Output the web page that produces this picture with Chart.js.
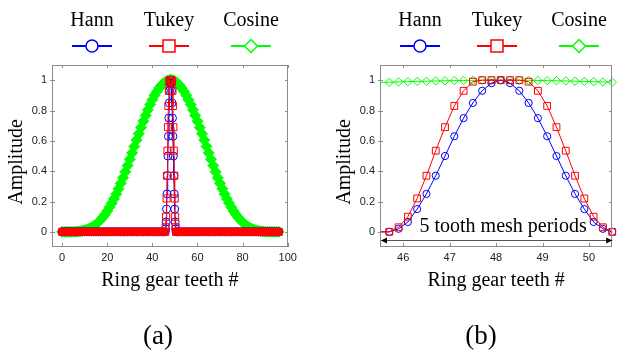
<!DOCTYPE html>
<html>
<head>
<meta charset="utf-8">
<script src="https://cdn.jsdelivr.net/npm/chart.js@4.4.0/dist/chart.umd.min.js"></script>
<style>
  html, body { margin: 0; padding: 0; background: #fff; }
  #wrap { position: relative; width: 618px; height: 350px; overflow: hidden; }
  canvas { position: absolute; top: 0; }
  #chartA { left: 0; }
  #chartB { left: 310px; }
</style>
</head>
<body>
<div id="wrap">
  <canvas id="chartA" width="310" height="350"></canvas>
  <canvas id="chartB" width="308" height="350"></canvas>
</div>
<script>
// ring gear teeth sampled once per tooth (whole record, panel a)
var teeth = [0,1,2,3,4,5,6,7,8,9,10,11,12,13,14,15,16,17,18,19,20,21,22,23,24,25,26,27,28,29,30,31,32,33,34,35,36,37,38,39,40,41,42,43,44,45,46,47,48,49,50,51,52,53,54,55,56,57,58,59,60,61,62,63,64,65,66,67,68,69,70,71,72,73,74,75,76,77,78,79,80,81,82,83,84,85,86,87,88,89,90,91,92,93,94,95,96];
var cosineTeeth = [0,0,0,0,0,0.001,0.001,0.003,0.004,0.007,0.011,0.015,0.021,0.029,0.038,0.049,0.063,0.078,0.095,0.115,0.137,0.162,0.189,0.218,0.25,0.284,0.32,0.357,0.396,0.437,0.478,0.52,0.563,0.605,0.647,0.688,0.729,0.767,0.804,0.839,0.871,0.9,0.925,0.948,0.966,0.981,0.991,0.998,1,
  0.998,0.991,0.981,0.966,0.948,0.925,0.9,0.871,0.839,0.804,0.767,0.729,0.688,0.647,0.605,0.563,0.52,0.478,0.437,0.396,0.357,0.32,0.284,0.25,0.218,0.189,0.162,0.137,0.115,0.095,0.078,0.063,0.049,0.038,0.029,0.021,0.015,0.011,0.007,0.004,0.003,0.001,0.001,0,0,0,0,0];
var outsideLevel = 0; // hann / tukey are zero away from the mesh window

// fine samples over the 5 tooth mesh window (panel b)
var windowX = [45.7,45.9,46.1,46.3,46.5,46.7,46.9,47.1,47.3,47.5,47.7,47.9,48.1,48.3,48.5,48.7,48.9,49.1,49.3,49.5,49.7,49.9,50.1,50.3,50.5];
var hannWindow = [0,0.02,0.065,0.15,0.25,0.37,0.5,0.63,0.75,0.85,0.93,0.98,1,0.98,0.93,0.85,0.75,0.63,0.5,0.37,0.25,0.15,0.065,0.02,0];
var tukeyWindow = [0,0.03,0.1,0.22,0.37,0.535,0.69,0.83,0.93,0.99,1,1,1,1,1,0.99,0.93,0.83,0.69,0.535,0.37,0.22,0.1,0.03,0];
var cosineWindow = [0.986,0.988,0.99,0.992,0.993,0.995,0.996,0.997,0.998,0.999,1,1,1,1,1,0.999,0.998,0.997,0.996,0.995,0.993,0.992,0.99,0.988,0.986];

var xTicksA = [0,20,40,60,80,100];
var xTicksB = [46,47,48,49,50];
var yTicks = [0,0.2,0.4,0.6,0.8,1];
var seriesNames = ['Hann','Tukey','Cosine'];

var serif = '"Liberation Serif", "Times New Roman", serif';
var sans = '"Liberation Sans", Arial, sans-serif';
var colors = { Hann: '#0000ff', Tukey: '#ff0000', Cosine: '#00ff00' };
var styles = { Hann: 'circle', Tukey: 'rect', Cosine: 'rectRot' };
var drawOrder = { Hann: 2, Tukey: 1, Cosine: 3 };

// join the per-tooth record with the fine window samples
function merge(outside, winVals) {
  var pts = [];
  teeth.forEach(function (t, i) {
    if (t < windowX[0] || t > windowX[windowX.length - 1]) {
      pts.push({ x: t, y: Array.isArray(outside) ? outside[i] : outside });
    }
  });
  windowX.forEach(function (x, i) { pts.push({ x: x, y: winVals[i] }); });
  pts.sort(function (a, b) { return a.x - b.x; });
  return pts;
}

var seriesData = {
  Hann: merge(outsideLevel, hannWindow),
  Tukey: merge(outsideLevel, tukeyWindow),
  Cosine: merge(cosineTeeth, cosineWindow)
};

function line(ctx, x1, y1, x2, y2) {
  ctx.beginPath(); ctx.moveTo(x1, y1); ctx.lineTo(x2, y2); ctx.stroke();
}

function marker(ctx, style, x, y, r) {
  ctx.beginPath();
  if (style === 'circle') ctx.arc(x, y, r, 0, Math.PI * 2);
  else if (style === 'rect') ctx.rect(x - r, y - r, 2 * r, 2 * r);
  else { ctx.moveTo(x, y - r); ctx.lineTo(x + r, y); ctx.lineTo(x, y + r); ctx.lineTo(x - r, y); ctx.closePath(); }
  ctx.fillStyle = '#fff';
  ctx.fill();
  ctx.stroke();
}

var decor = {
  id: 'decor',
  afterDatasetsDraw: function (chart, args, o) {
    var ctx = chart.ctx, a = chart.chartArea, xs = chart.scales.x, ys = chart.scales.y;
    var L = Math.round(a.left), T = Math.round(a.top), R = Math.round(a.right), B = Math.round(a.bottom);
    ctx.save();
    ctx.strokeStyle = '#8c8c8c';
    ctx.lineWidth = 1;
    ctx.strokeRect(L + 0.5, T + 0.5, R - L - 1, B - T - 1);
    xs.ticks.forEach(function (t) {
      var px = Math.round(xs.getPixelForValue(t.value)) + 0.5;
      line(ctx, px, B, px, B - 4);
      line(ctx, px, T, px, T + 3);
    });
    ys.ticks.forEach(function (t) {
      var py = Math.round(ys.getPixelForValue(t.value)) + 0.5;
      line(ctx, L - 2, py, L + 3, py);
      line(ctx, R, py, R - 3, py);
    });

    // legend above the axes
    ctx.textAlign = 'center';
    ctx.textBaseline = 'alphabetic';
    seriesNames.forEach(function (name, i) {
      var cx = a.left + o.legendAt[i];
      ctx.font = '20px ' + serif;
      ctx.fillStyle = '#000';
      ctx.fillText(name, cx, 26);
      ctx.strokeStyle = colors[name];
      ctx.lineWidth = 1.8;
      line(ctx, cx - 20, 46, cx + 20, 46);
      ctx.lineWidth = 1.5;
      marker(ctx, styles[name], cx, 46, name === 'Cosine' ? 6.5 : 6);
    });

    // axis titles
    ctx.fillStyle = '#000';
    ctx.font = '20px ' + serif;
    ctx.fillText(o.xTitle, (a.left + a.right) / 2, 286);
    ctx.save();
    ctx.translate(a.left - 30, 162);
    ctx.rotate(-Math.PI / 2);
    ctx.fillText(o.yTitle, 0, 0);
    ctx.restore();

    // panel label
    ctx.font = '27px ' + serif;
    ctx.fillText(o.panel, o.panelX, 344);

    // mesh period annotation
    if (o.note) {
      ctx.font = '20px ' + serif;
      ctx.fillText(o.note.text, xs.getPixelForValue(o.note.x), ys.getPixelForValue(o.note.y));
      var ay = Math.round(ys.getPixelForValue(o.note.arrowY)) + 0.5;
      var x1 = xs.getPixelForValue(o.note.from) + 1, x2 = xs.getPixelForValue(o.note.to);
      ctx.strokeStyle = '#555';
      ctx.lineWidth = 1;
      line(ctx, x1, ay, x2, ay);
      ctx.fillStyle = '#000';
      ctx.beginPath(); ctx.moveTo(x1, ay); ctx.lineTo(x1 + 6, ay - 3); ctx.lineTo(x1 + 6, ay + 3); ctx.closePath(); ctx.fill();
      ctx.beginPath(); ctx.moveTo(x2, ay); ctx.lineTo(x2 - 6, ay - 3); ctx.lineTo(x2 - 6, ay + 3); ctx.closePath(); ctx.fill();
    }
    ctx.restore();
  }
};

function buildDatasets(cfg) {
  return seriesNames.map(function (name) {
    var c = colors[name];
    return {
      label: name,
      data: seriesData[name],
      borderColor: c,
      borderWidth: 1,
      pointStyle: styles[name],
      pointRadius: cfg.radii[name],
      pointHoverRadius: cfg.radii[name],
      pointBorderColor: c,
      pointBorderWidth: 1,
      pointBackgroundColor: function (p) {
        if (cfg.filled && p.raw && Number.isInteger(p.raw.x)) return c;
        return 'rgba(0,0,0,0)';
      },
      order: drawOrder[name],
      clip: cfg.clip
    };
  });
}

function tickFont() { return { family: sans, size: 11 }; }

function makeChart(id, cfg) {
  return new Chart(document.getElementById(id), {
    type: 'line',
    data: { datasets: buildDatasets(cfg) },
    options: {
      responsive: false,
      animation: false,
      events: [],
      layout: { padding: { left: 0, top: 65, right: cfg.padRight, bottom: 73 } },
      plugins: { legend: { display: false }, tooltip: { enabled: false }, decor: cfg.decor },
      scales: {
        x: {
          type: 'linear', min: cfg.xMin, max: cfg.xMax,
          grid: { display: false, drawTicks: false }, border: { display: false },
          afterBuildTicks: function (s) { s.ticks = cfg.xTicks.map(function (v) { return { value: v }; }); },
          afterFit: function (s) { s.height = 30; },
          ticks: { padding: 4, font: tickFont(), color: '#222', maxRotation: 0, autoSkip: false,
                   callback: function (v) { return String(v); } }
        },
        y: {
          type: 'linear', min: -0.1, max: 1.1,
          grid: { display: false, drawTicks: false }, border: { display: false },
          afterBuildTicks: function (s) { s.ticks = yTicks.map(function (v) { return { value: v }; }); },
          afterFit: function (s) { s.width = cfg.yWidth; },
          ticks: { padding: 5, font: tickFont(), color: '#222', callback: function (v) { return String(v); } }
        }
      }
    },
    plugins: [decor]
  });
}

makeChart('chartA', {
  filled: true, clip: 7, xMin: -4.5, xMax: 100, xTicks: xTicksA, padRight: 22.3, yWidth: 52,
  radii: { Hann: 4, Tukey: 5, Cosine: 5.5 },
  decor: { legendAt: [40, 117, 199], xTitle: 'Ring gear teeth #', yTitle: 'Amplitude', panel: '(a)', panelX: 158 }
});

makeChart('chartB', {
  filled: false, clip: { left: 0, top: 8, right: 8, bottom: 8 }, xMin: 45.5, xMax: 50.5, xTicks: xTicksB, padRight: 1.4, yWidth: 70,
  radii: { Hann: 3.6, Tukey: 4.8, Cosine: 4.2 },
  decor: { legendAt: [40, 117, 199], xTitle: 'Ring gear teeth #', yTitle: 'Amplitude', panel: '(b)', panelX: 171,
           note: { text: '5 tooth mesh periods', x: 48.15, y: 0, arrowY: -0.053, from: 45.5, to: 50.5 } }
});
</script>
</body>
</html>
